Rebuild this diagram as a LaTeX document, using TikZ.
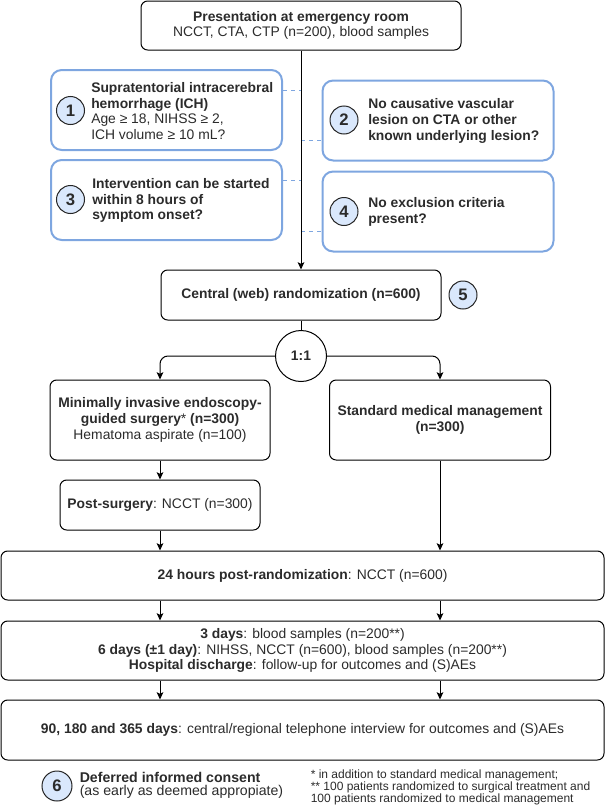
\documentclass[tikz,border=0pt]{standalone}
\usepackage{fontspec}
\setmainfont{Liberation Sans}
\usetikzlibrary{arrows.meta,positioning,calc}
\definecolor{critblue}{HTML}{7EA6E0}
\definecolor{numfill}{HTML}{DAE8FC}
\definecolor{txtgray}{HTML}{2B2B2B}
\newcommand\pu{0.75pt}

\begin{document}
\begin{tikzpicture}[x=0.75pt, y=-0.75pt,
  font=\fontsize{10.4}{11.8}\selectfont, text=txtgray,
  stepbox/.style={draw=black, line width=0.75pt, rounded corners=5pt, align=center, inner sep=0pt},
  critbox/.style={draw=critblue, line width=1.5pt, rounded corners=8pt, inner sep=0pt,
    minimum width=231*\pu, minimum height=80*\pu},
  crittext/.style={anchor=west, align=left, inner sep=0pt},
  numcirc/.style={circle, draw=black!85, fill=numfill, line width=0.75pt, minimum size=28*\pu,
    inner sep=0pt, font=\fontsize{12.5}{13}\selectfont\bfseries},
  arr/.style={-{Stealth[length=5.5pt,width=5pt,inset=1.2pt]}, line width=0.75pt},
  dashlink/.style={draw=critblue, line width=0.75pt, dash pattern=on 3pt off 3pt},
]
\useasboundingbox (0,0) rectangle (605,810);

% ── ENTRY ────────────────────────────────────────────────────────────────
\node[stepbox, minimum width=320*\pu, minimum height=49*\pu] (pres) at (301,25.5)
  {\textbf{Presentation at emergency room}\\NCCT, CTA, CTP (n=200), blood samples};

% ── ELIGIBILITY CHECKS (left column x=51..282, right column x=323..553) ──
\node[critbox] (crit1) at (166.5,110) {};
\node[critbox] (crit3) at (166.5,200) {};
\node[critbox] (crit2) at (438,120.5) {};
\node[critbox] (crit4) at (438,211.5) {};

\node[crittext] (crit1txt) at (91,111)
  {\textbf{Supratentorial intracerebral}\\\textbf{hemorrhage (ICH)}\\Age ≥ 18, NIHSS ≥ 2,\\ICH volume ≥ 10 mL?};
\node[crittext] (crit3txt) at (92,200.5)
  {\textbf{Intervention can be started}\\\textbf{within 8 hours of}\\\textbf{symptom onset?}};
\node[crittext] (crit2txt) at (368,121)
  {\textbf{No causative vascular}\\\textbf{lesion on CTA or other}\\\textbf{known underlying lesion?}};
\node[crittext] (crit4txt) at (368,212)
  {\textbf{No exclusion criteria}\\\textbf{present?}};

\node[numcirc] (n1) at (70.5,110.5) {1};
\node[numcirc] (n2) at (344,120) {2};
\node[numcirc] (n3) at (70.5,199.5) {3};
\node[numcirc] (n4) at (344,211.5) {4};

% dashed ties from the checks to the trunk (trunk at x=301)
\coordinate (d1) at (301,90);
\coordinate (d2) at (301,140);
\coordinate (d3) at (301,180);
\coordinate (d4) at (301,231.5);
\draw[dashlink] (crit1.east |- d1) -- (d1);
\draw[dashlink] (d2) -- (crit2.west |- d2);
\draw[dashlink] (crit3.east |- d3) -- (d3);
\draw[dashlink] (d4) -- (crit4.west |- d4);

% ── RANDOMIZATION ────────────────────────────────────────────────────────
\node[stepbox, minimum width=280*\pu, minimum height=50*\pu] (rand) at (301,295)
  {\textbf{Central (web) randomization (n=600)}};
\node[numcirc] (n5) at (463,295) {5};
\node[stepbox, circle, minimum size=51*\pu] (ratio) at (301,356) {\textbf{1:1}};

\draw[arr] (pres.south) -- (rand.north);
\draw[line width=0.75pt] (rand) -- (ratio);

% ── ARMS ─────────────────────────────────────────────────────────────────
\node[stepbox, minimum width=220*\pu, minimum height=80*\pu] (surg) at (160,420)
  {\textbf{Minimally invasive endoscopy-}\\\textbf{guided surgery}*\textbf{ (n=300)}\\Hematoma aspirate (n=100)};
\node[stepbox, minimum width=221*\pu, minimum height=80*\pu] (medic) at (440,420)
  {\textbf{Standard medical management}\\\textbf{(n=300)}};
\node[stepbox, minimum width=200*\pu, minimum height=50*\pu] (postsurg) at (160,505)
  {\textbf{Post-surgery}: NCCT (n=300)};

\draw[arr, rounded corners=6pt] (ratio.west) -| (surg.north);
\draw[arr, rounded corners=6pt] (ratio.east) -| (medic.north);
\draw[arr] (surg) -- (postsurg);

% ── FOLLOW-UP (full width x=1..604) ──────────────────────────────────────
\node[stepbox, minimum width=603*\pu, minimum height=49*\pu] (h24) at (302.5,575.5)
  {\textbf{24 hours post-randomization}: NCCT (n=600)};
\node[stepbox, minimum width=603*\pu, minimum height=59*\pu] (days) at (302.5,650.5)
  {\textbf{3 days}: blood samples (n=200**)\\
   \textbf{6 days (±1 day)}: NIHSS, NCCT (n=600), blood samples (n=200**)\\
   \textbf{Hospital discharge}: follow-up for outcomes and (S)AEs};
\node[stepbox, minimum width=603*\pu, minimum height=60*\pu] (fu) at (302.5,730)
  {\textbf{90, 180 and 365 days}: central/regional telephone interview for outcomes and (S)AEs};

\draw[arr] (postsurg.south) -- (postsurg.south |- h24.north);
\draw[arr] (medic.south) -- (medic.south |- h24.north);
\draw[arr] (h24.south -| postsurg.south) -- (days.north -| postsurg.south);
\draw[arr] (h24.south -| medic.south) -- (days.north -| medic.south);
\draw[arr] (days.south -| postsurg.south) -- (fu.north -| postsurg.south);
\draw[arr] (days.south -| medic.south) -- (fu.north -| medic.south);

% ── CONSENT + FOOTNOTES ──────────────────────────────────────────────────
\node[numcirc, minimum size=30*\pu] (n6) at (57,786) {6};
\node[crittext, font=\fontsize{10.6}{9.8}\selectfont] (consent) at (79.5,785.5)
  {\textbf{Deferred informed consent}\\(as early as deemed appropiate)};
\node[crittext, font=\fontsize{9}{8.8}\selectfont] (notes) at (310.5,787.5)
  {* in addition to standard medical management;\\
   ** 100 patients randomized to surgical treatment and\\
   100 patients randomized to medical management};

\end{tikzpicture}
\end{document}
